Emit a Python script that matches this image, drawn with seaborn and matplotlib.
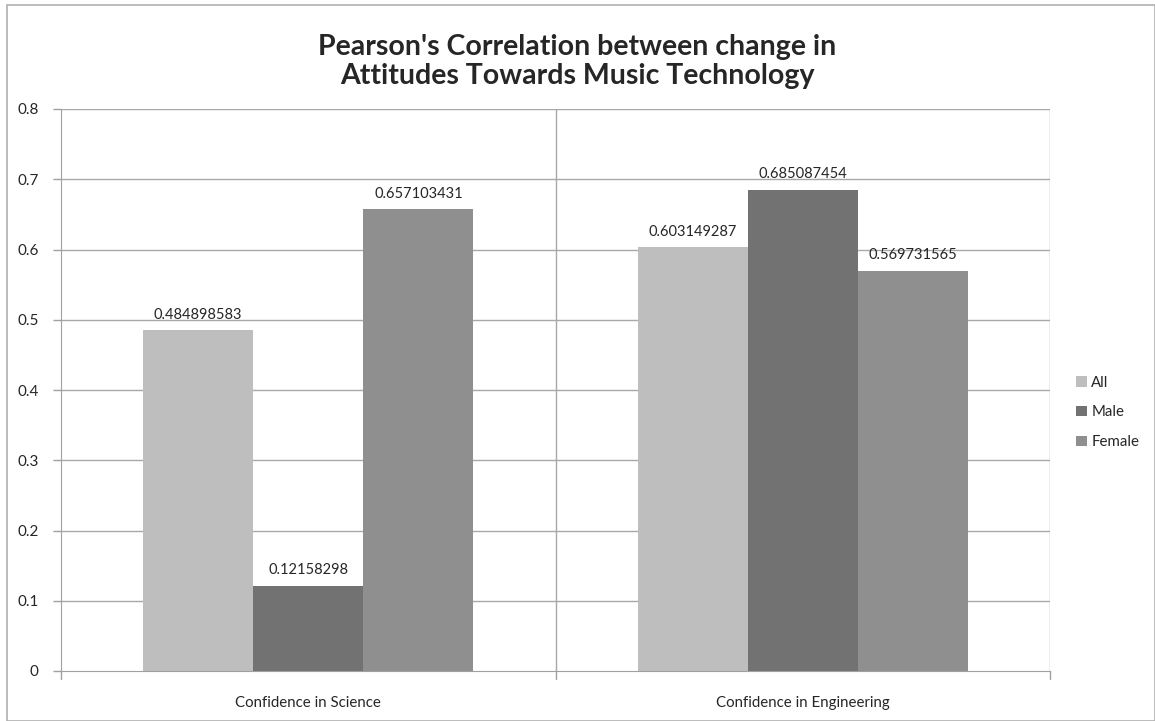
import pandas as pd
import matplotlib.pyplot as plt
import seaborn as sns
from matplotlib.patches import Rectangle

# data
categories = ['Confidence in Science', 'Confidence in Engineering']
groups = ['All', 'Male', 'Female']
all_vals = [0.484898583, 0.603149287]
male_vals = [0.12158298, 0.685087454]
female_vals = [0.657103431, 0.569731565]
labels_all = ['0.484898583', '0.603149287']
labels_male = ['0.12158298', '0.685087454']
labels_female = ['0.657103431', '0.569731565']
colors = ['#bebebe', '#727272', '#8f8f8f']

df = pd.DataFrame({
    'Category': categories * 3,
    'Group': [g for g in groups for _ in categories],
    'Value': all_vals + male_vals + female_vals,
})
value_labels = [labels_all, labels_male, labels_female]

sns.set_style('white')
plt.rcParams['font.family'] = ['Lato', 'DejaVu Sans']

fig = plt.figure(figsize=(11.55, 7.21), dpi=100)
ax = fig.add_axes([61 / 1155, 1 - 671 / 721, (1050 - 61) / 1155, (671 - 109) / 721])

sns.barplot(data=df, x='Category', y='Value', hue='Group', order=categories,
            hue_order=groups, palette=colors, width=0.668, saturation=1,
            linewidth=0, ax=ax)

ax.set_xlim(-0.5, 1.5)
ax.set_ylim(0, 0.8)
ax.set_yticks([i / 10 for i in range(9)])
ax.set_yticklabels(['0'] + [f'{i / 10:.1f}' for i in range(1, 9)], fontsize=11)
ax.set_xlabel('')
ax.set_ylabel('')
ax.tick_params(axis='x', length=0, pad=18, labelsize=10.8)
ax.tick_params(axis='y', length=6, color='#a0a0a0', width=1, pad=10, left=True)

# grid
for y in [i / 10 for i in range(1, 9)]:
    ax.axhline(y, color='#a8a8a8', lw=1, zorder=0)
for x in [0.5, 1.5]:
    ax.axvline(x, color='#a8a8a8', lw=1, zorder=0)
for x in [-0.5, 0.5, 1.5]:
    ax.plot([x, x], [0, -0.012], color='#a0a0a0', lw=1, clip_on=False)

for s in ['top', 'right']:
    ax.spines[s].set_visible(False)
ax.spines['left'].set_color('#a0a0a0')
ax.spines['bottom'].set_color('#a0a0a0')

# value labels
for cont, labs in zip(ax.containers, value_labels):
    ax.bar_label(cont, labels=labs, padding=6, fontsize=10.5)

ax.legend(loc='center left', bbox_to_anchor=(1.013, 0.46), frameon=False,
          fontsize=10.8, handlelength=0.7, handleheight=0.7, handletextpad=0.3,
          labelspacing=1.05)

fig.suptitle("Pearson's Correlation between change in\nAttitudes Towards Music Technology",
             fontsize=20.5, fontweight='bold', y=0.953, linespacing=1.15)

fig.patches.append(Rectangle((7 / 1155, 0), 1 - 7 / 1155, 1 - 5 / 721, transform=fig.transFigure,
                             fill=False, edgecolor='#b0b0b0', lw=1.2))

fig.savefig('out.png', dpi=100)
